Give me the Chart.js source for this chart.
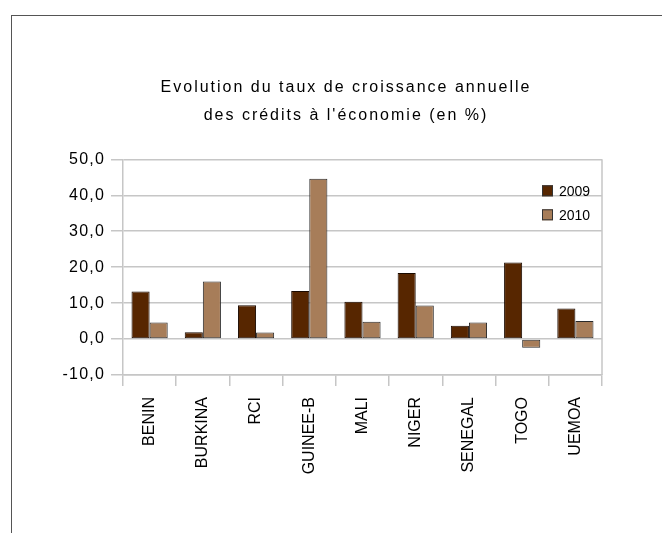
<!DOCTYPE html>
<html>
<head>
<meta charset="utf-8">
<script src="https://cdn.jsdelivr.net/npm/chart.js@4/dist/chart.umd.min.js"></script>
<style>
  html, body { margin: 0; padding: 0; background: #fff; overflow: hidden; }
  #wrap { position: relative; width: 662px; height: 533px; }
  #frame { position: absolute; left: 11px; top: 15px; width: 700px; height: 600px;
           border-left: 1px solid #555; border-top: 1px solid #555; }
  #chart { position: absolute; left: 0; top: 0; }
</style>
</head>
<body>
<div id="wrap">
  <div id="frame"></div>
  <canvas id="chart" width="662" height="533"></canvas>
</div>
<script>
const countries = ['BENIN', 'BURKINA', 'RCI', 'GUINEE-B', 'MALI', 'NIGER', 'SENEGAL', 'TOGO', 'UEMOA'];
const rate2009 = [13.2, 1.9, 9.4, 13.4, 10.4, 18.4, 3.7, 21.3, 8.5];
const rate2010 = [4.6, 16.0, 1.8, 44.6, 4.8, 9.3, 4.6, -2.4, 5.0];
const titleLines = ['Evolution du taux de croissance annuelle', "des crédits à l'économie (en %)"];

const FONT = "'Liberation Sans', Arial, sans-serif";
const GRID = '#c6c6c6';

// wider tracking for the title and the value axis labels; title nudged right
const spacing = {
  id: 'spacing',
  beforeDraw(chart) {
    const ctx = chart.ctx;
    const t = chart.titleBlock;
    if (t && !t._spaced) {
      const draw = t.draw.bind(t);
      t.draw = function (area) {
        ctx.save();
        ctx.translate(15, 0);
        ctx.letterSpacing = '2px';
        draw(area);
        ctx.restore();
      };
      t._spaced = true;
    }
    const y = chart.scales.y;
    if (y && !y._spaced) {
      const drawLabels = y.drawLabels.bind(y);
      y.drawLabels = function (area) {
        ctx.save();
        ctx.letterSpacing = '1.2px';
        drawLabels(area);
        ctx.restore();
      };
      y._spaced = true;
    }
  }
};

// right edge of the plot frame
const rightEdge = {
  id: 'rightEdge',
  beforeDatasetsDraw(chart) {
    const { ctx, chartArea } = chart;
    ctx.save();
    ctx.strokeStyle = GRID;
    ctx.lineWidth = 1.5;
    ctx.beginPath();
    ctx.moveTo(chartArea.right, chartArea.top);
    ctx.lineTo(chartArea.right, chartArea.bottom);
    ctx.stroke();
    ctx.restore();
  }
};

// legend drawn inside the plot, top right
const boxLegend = {
  id: 'boxLegend',
  afterDraw(chart) {
    const { ctx, chartArea } = chart;
    ctx.save();
    chart.data.datasets.forEach((ds, i) => {
      const x = chartArea.right - 60;
      const y = chartArea.top + 26 + i * 24;
      ctx.fillStyle = ds.backgroundColor;
      ctx.fillRect(x, y, 11, 11);
      ctx.strokeStyle = '#333';
      ctx.lineWidth = 1;
      ctx.strokeRect(x + 0.5, y + 0.5, 10, 10);
      ctx.fillStyle = '#000';
      ctx.font = '14px ' + FONT;
      ctx.textBaseline = 'middle';
      ctx.textAlign = 'left';
      ctx.fillText(ds.label, x + 17, y + 7);
    });
    ctx.restore();
  }
};

new Chart(document.getElementById('chart'), {
  type: 'bar',
  data: {
    labels: countries,
    datasets: [
      { label: '2009', data: rate2009, backgroundColor: '#572600', borderColor: '#1a0a00' },
      { label: '2010', data: rate2010, backgroundColor: '#a77d59', borderColor: '#2a2a2a' }
    ]
  },
  options: {
    responsive: false,
    devicePixelRatio: 1,
    animation: false,
    layout: { padding: { left: 60, right: 60, top: 0, bottom: 0 } },
    datasets: {
      bar: { borderWidth: 1, borderSkipped: false, categoryPercentage: 0.68, barPercentage: 1.0 }
    },
    plugins: {
      legend: { display: false },
      tooltip: { enabled: false },
      title: {
        display: true,
        text: titleLines,
        color: '#000',
        font: { family: FONT, size: 16, weight: 'normal', lineHeight: 1.7 },
        padding: { top: 74.4, bottom: 30.5 }
      }
    },
    scales: {
      x: {
        afterFit: s => { s.height = 158; },
        grid: { offset: true, drawOnChartArea: false, color: GRID, lineWidth: 1.5, tickLength: 11 },
        border: { color: GRID, width: 1.5 },
        ticks: {
          minRotation: 90, maxRotation: 90, padding: 11,
          color: '#000', font: { family: FONT, size: 16 }
        }
      },
      y: {
        min: -10, max: 50,
        afterFit: s => { s.width = 63; },
        grid: { color: GRID, lineWidth: 1.5, tickLength: 12 },
        border: { color: GRID, width: 1.5 },
        ticks: {
          stepSize: 10, padding: 6,
          color: '#000', font: { family: FONT, size: 16 },
          callback: v => v.toFixed(1).replace('.', ',')
        }
      }
    }
  },
  plugins: [spacing, rightEdge, boxLegend]
});
</script>
</body>
</html>
